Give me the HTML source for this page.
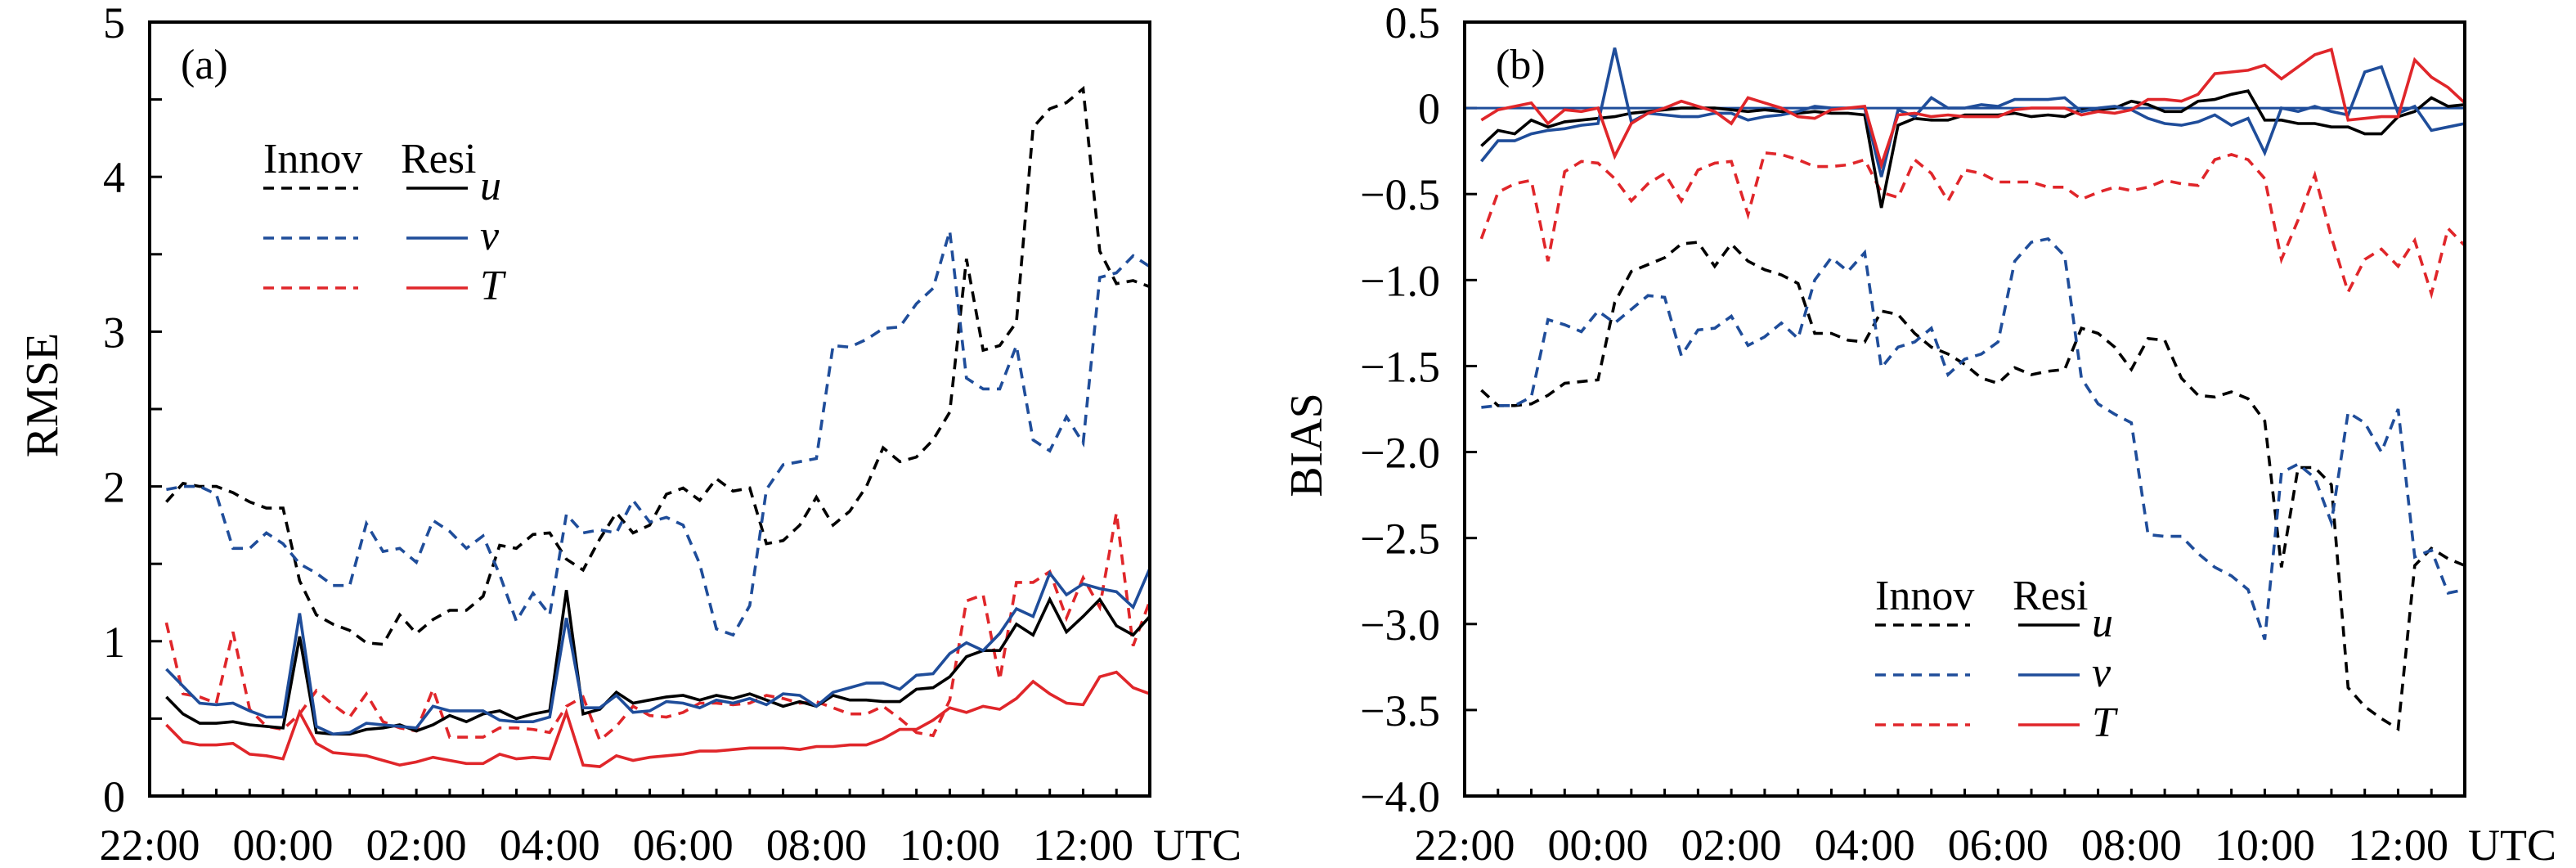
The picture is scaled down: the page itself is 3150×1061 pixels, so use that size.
<!DOCTYPE html>
<html><head><meta charset="utf-8"><style>
html,body{margin:0;padding:0;background:#fff;}
svg{display:block;}
svg text{font-family:"Liberation Serif","Times New Roman",Times,serif;}
</style></head><body>
<svg id="chart" width="3150" height="1061" viewBox="0 0 3150 1061" xmlns="http://www.w3.org/2000/svg" font-family="Liberation Serif, Times New Roman, serif">
<rect width="3150" height="1061" fill="#fff"/>
<g id="pa"></g>
<g id="pb"></g>
</svg>
<script>
const xTickLabels = ["22:00","00:00","02:00","04:00","06:00","08:00","10:00","12:00"];
const rmseTicks = [0,1,2,3,4,5];
const biasTicks = [0.5,0,-0.5,-1.0,-1.5,-2.0,-2.5,-3.0,-3.5,-4.0];

const uInnovA = [1.90,2.02,2.00,2.00,1.96,1.90,1.86,1.86,1.39,1.17,1.11,1.07,0.99,0.98,1.17,1.05,1.14,1.20,1.20,1.29,1.62,1.60,1.69,1.70,1.53,1.46,1.66,1.83,1.70,1.75,1.95,1.99,1.91,2.05,1.97,1.99,1.63,1.65,1.75,1.93,1.75,1.84,2.00,2.25,2.16,2.19,2.30,2.48,3.47,2.88,2.91,3.06,4.32,4.44,4.48,4.57,3.52,3.31,3.33,3.29];
const vInnovA = [1.98,2.00,2.00,1.95,1.60,1.60,1.70,1.63,1.50,1.44,1.36,1.36,1.76,1.58,1.60,1.51,1.78,1.71,1.60,1.68,1.43,1.13,1.31,1.17,1.82,1.70,1.72,1.70,1.91,1.77,1.80,1.75,1.50,1.08,1.04,1.23,1.98,2.14,2.16,2.18,2.91,2.90,2.95,3.02,3.03,3.18,3.28,3.65,2.70,2.63,2.63,2.91,2.30,2.23,2.45,2.28,3.35,3.38,3.49,3.42];
const TInnovA = [1.12,0.66,0.64,0.60,1.06,0.56,0.45,0.43,0.53,0.68,0.59,0.51,0.66,0.48,0.44,0.42,0.69,0.38,0.38,0.38,0.44,0.44,0.43,0.41,0.58,0.64,0.36,0.45,0.58,0.52,0.51,0.54,0.60,0.60,0.59,0.60,0.65,0.63,0.60,0.61,0.57,0.53,0.53,0.58,0.50,0.41,0.39,0.62,1.26,1.30,0.75,1.38,1.38,1.45,1.15,1.41,1.22,1.83,0.97,1.26];
const uResiA = [0.64,0.53,0.47,0.47,0.48,0.46,0.45,0.44,1.03,0.41,0.40,0.40,0.43,0.44,0.46,0.42,0.46,0.52,0.48,0.53,0.55,0.50,0.53,0.55,1.33,0.53,0.56,0.67,0.60,0.62,0.64,0.65,0.62,0.65,0.63,0.66,0.62,0.58,0.61,0.58,0.65,0.62,0.62,0.61,0.61,0.69,0.70,0.77,0.90,0.94,0.94,1.11,1.04,1.27,1.06,1.16,1.27,1.10,1.04,1.16];
const vResiA = [0.82,0.71,0.60,0.59,0.60,0.55,0.51,0.51,1.18,0.45,0.40,0.41,0.47,0.46,0.45,0.44,0.58,0.55,0.55,0.55,0.49,0.48,0.48,0.51,1.15,0.57,0.57,0.65,0.54,0.55,0.61,0.60,0.57,0.62,0.60,0.63,0.59,0.66,0.65,0.58,0.67,0.70,0.73,0.73,0.69,0.78,0.79,0.92,0.99,0.94,1.05,1.21,1.16,1.44,1.30,1.37,1.34,1.32,1.22,1.47];
const TResiA = [0.46,0.35,0.33,0.33,0.34,0.27,0.26,0.24,0.54,0.34,0.28,0.27,0.26,0.23,0.20,0.22,0.25,0.23,0.21,0.21,0.27,0.24,0.25,0.24,0.54,0.20,0.19,0.26,0.23,0.25,0.26,0.27,0.29,0.29,0.30,0.31,0.31,0.31,0.30,0.32,0.32,0.33,0.33,0.37,0.43,0.43,0.49,0.57,0.54,0.58,0.56,0.63,0.74,0.66,0.60,0.59,0.77,0.80,0.70,0.66];

const uInnovB = [-1.64,-1.73,-1.73,-1.72,-1.67,-1.60,-1.59,-1.58,-1.13,-0.95,-0.91,-0.87,-0.79,-0.78,-0.92,-0.79,-0.89,-0.94,-0.97,-1.02,-1.31,-1.31,-1.35,-1.36,-1.18,-1.20,-1.31,-1.39,-1.43,-1.49,-1.57,-1.60,-1.51,-1.55,-1.53,-1.52,-1.28,-1.31,-1.39,-1.52,-1.34,-1.35,-1.57,-1.67,-1.68,-1.65,-1.69,-1.82,-2.67,-2.09,-2.09,-2.19,-3.37,-3.48,-3.55,-3.61,-2.66,-2.56,-2.62,-2.66];
const vInnovB = [-1.74,-1.73,-1.73,-1.68,-1.23,-1.26,-1.30,-1.18,-1.25,-1.17,-1.09,-1.10,-1.44,-1.29,-1.28,-1.21,-1.38,-1.33,-1.25,-1.34,-1.00,-0.87,-0.95,-0.84,-1.51,-1.39,-1.36,-1.28,-1.55,-1.46,-1.43,-1.36,-0.89,-0.78,-0.76,-0.86,-1.57,-1.72,-1.78,-1.83,-2.48,-2.49,-2.49,-2.59,-2.67,-2.72,-2.80,-3.09,-2.12,-2.07,-2.15,-2.41,-1.77,-1.83,-2.00,-1.75,-2.61,-2.57,-2.82,-2.80];
const TInnovB = [-0.76,-0.49,-0.44,-0.42,-0.89,-0.37,-0.31,-0.32,-0.41,-0.54,-0.44,-0.38,-0.54,-0.36,-0.32,-0.31,-0.62,-0.26,-0.27,-0.30,-0.34,-0.34,-0.33,-0.30,-0.49,-0.52,-0.30,-0.38,-0.54,-0.36,-0.38,-0.43,-0.43,-0.43,-0.46,-0.46,-0.53,-0.49,-0.46,-0.48,-0.46,-0.42,-0.44,-0.45,-0.30,-0.27,-0.30,-0.41,-0.88,-0.65,-0.39,-0.75,-1.07,-0.88,-0.82,-0.92,-0.77,-1.08,-0.70,-0.80];
const uResiB = [-0.22,-0.13,-0.15,-0.07,-0.11,-0.08,-0.07,-0.06,-0.05,-0.03,-0.02,-0.01,0,0,0,-0.01,-0.02,-0.01,-0.02,-0.03,-0.02,-0.03,-0.03,-0.04,-0.58,-0.10,-0.06,-0.07,-0.07,-0.04,-0.04,-0.04,-0.03,-0.05,-0.04,-0.05,-0.01,-0.01,0,0.04,0.02,-0.02,-0.02,0.04,0.05,0.08,0.10,-0.07,-0.07,-0.09,-0.09,-0.11,-0.11,-0.15,-0.15,-0.05,-0.02,0.06,0.01,0.02];
const vResiB = [-0.31,-0.19,-0.19,-0.15,-0.13,-0.12,-0.10,-0.09,0.35,-0.08,-0.03,-0.04,-0.05,-0.05,-0.03,-0.03,-0.07,-0.05,-0.04,-0.02,0.01,0,0,0,-0.40,-0.01,-0.05,0.06,0,0,0.02,0.01,0.05,0.05,0.05,0.06,-0.02,0,0.01,-0.01,-0.06,-0.09,-0.10,-0.08,-0.04,-0.10,-0.06,-0.26,0,-0.02,0.01,-0.02,-0.04,0.21,0.24,-0.03,0.01,-0.13,-0.11,-0.09];
const TResiB = [-0.07,-0.01,0.01,0.03,-0.09,-0.01,-0.02,0,-0.28,-0.09,-0.03,0,0.04,0.01,-0.02,-0.09,0.06,0.03,0,-0.05,-0.06,-0.01,0,0.01,-0.33,-0.04,-0.03,-0.05,-0.04,-0.05,-0.05,-0.05,-0.01,0,0,0,-0.04,-0.02,-0.03,-0.01,0.05,0.05,0.04,0.08,0.20,0.21,0.22,0.25,0.17,0.24,0.31,0.34,-0.07,-0.06,-0.05,-0.05,0.28,0.18,0.12,0.03];

const NS = "http://www.w3.org/2000/svg";
const BLACK = "#000", BLUE = "#1f4d9a", RED = "#e0262a";
const TOP = 27, BOT = 973, W = 1223;
function mk(parent, tag, attrs, text) {
  const e = document.createElementNS(NS, tag);
  for (const k in attrs) e.setAttribute(k, attrs[k]);
  if (text !== undefined) e.textContent = text;
  parent.appendChild(e);
  return e;
}
function fmt(v) { return v < 0 ? "\u2212" + Math.abs(v).toFixed(1) : (v === 0 ? "0" : v.toFixed(1)); }

function drawPanel(g, x0, yMin, yMax, minorStep, yLabels, labelFmt, series, tag) {
  const xs = i => x0 + W * (i + 1) / 60;
  const ys = v => BOT - (v - yMin) / (yMax - yMin) * (BOT - TOP);
  const nMinor = Math.round((yMax - yMin) / minorStep);
  for (let k = 0; k <= nMinor; k++) {
    const y = ys(yMin + k * minorStep);
    const t = mk(g, "line", {x1: x0, x2: x0 + 15, y1: y, y2: y, stroke: "#000", "stroke-width": 3});
    
    
  }
  for (let k = 1; k < 30; k++) {
    const x = x0 + W * k / 30;
    const t = mk(g, "line", {x1: x, x2: x, y1: BOT, y2: BOT - 9, stroke: "#000", "stroke-width": 3});
    
    
  }
  yLabels.forEach(v => {
    const t = mk(g, "text", {x: x0 - 30, y: ys(v) + 19, "text-anchor": "end", "font-size": 54}, labelFmt(v));
    
    
  });
  xTickLabels.forEach((s, k) => {
    const t = mk(g, "text", {x: x0 + W * k / 7.5, y: 1051, "text-anchor": "middle", "font-size": 54}, s);
    
    
  });
  const utc = mk(g, "text", {x: x0 + W + 4, y: 1051, "font-size": 54}, "UTC");
  
  
  if (yMax > 0 && yMin < 0) {
    const z = mk(g, "line", {x1: x0, x2: x0 + W, y1: ys(0), y2: ys(0), stroke: BLUE, "stroke-width": 3});
    
    
  }
  series.forEach(s => {
    const d = s.data.map((v, i) => (i ? "L" : "M") + xs(i).toFixed(1) + "," + ys(v).toFixed(1)).join("");
    const attrs = {d: d, fill: "none", stroke: s.color, "stroke-width": 3.6, "stroke-linejoin": "miter"};
    if (s.dash) attrs["stroke-dasharray"] = "13,9";
    const p = mk(g, "path", attrs);
    
    
  });
  const fr = mk(g, "rect", {x: x0, y: TOP, width: W, height: BOT - TOP, fill: "none", stroke: "#000", "stroke-width": 4});
  
  
  const pl = mk(g, "text", {x: x0 + 38, y: 96, "font-size": 52}, tag);
  
  
}

function legend(g, lx, ly) {
  const h1 = mk(g, "text", {x: lx, y: ly, "font-size": 52}, "Innov");
  
  
  const h2 = mk(g, "text", {x: lx + 168, y: ly, "font-size": 52}, "Resi");
  
  
  [["u", BLACK, 19], ["v", BLUE, 80], ["T", RED, 141]].forEach(r => {
    const y = ly + r[2];
    const a = mk(g, "line", {x1: lx, x2: lx + 116, y1: y, y2: y, stroke: r[1], "stroke-width": 3.6, "stroke-dasharray": "13,9"});
    
    
    const b = mk(g, "line", {x1: lx + 175, x2: lx + 250, y1: y, y2: y, stroke: r[1], "stroke-width": 3.6});
    
    
    const t = mk(g, "text", {x: lx + 265, y: y + 14, "font-size": 52, "font-style": "italic"}, r[0]);
    
    
  });
}

const pa = document.getElementById("pa");
const pb = document.getElementById("pb");
drawPanel(pa, 183, 0, 5, 0.5, rmseTicks, v => String(v), [
  {data: uInnovA, color: BLACK, dash: true, name: "u-innov-rmse-line"},
  {data: vInnovA, color: BLUE, dash: true, name: "v-innov-rmse-line"},
  {data: TInnovA, color: RED, dash: true, name: "t-innov-rmse-line"},
  {data: TResiA, color: RED, dash: false, name: "t-resi-rmse-line"},
  {data: uResiA, color: BLACK, dash: false, name: "u-resi-rmse-line"},
  {data: vResiA, color: BLUE, dash: false, name: "v-resi-rmse-line"}
], "(a)");
drawPanel(pb, 1791, -4.0, 0.5, 0.5, biasTicks, fmt, [
  {data: uInnovB, color: BLACK, dash: true, name: "u-innov-bias-line"},
  {data: vInnovB, color: BLUE, dash: true, name: "v-innov-bias-line"},
  {data: TInnovB, color: RED, dash: true, name: "t-innov-bias-line"},
  {data: uResiB, color: BLACK, dash: false, name: "u-resi-bias-line"},
  {data: vResiB, color: BLUE, dash: false, name: "v-resi-bias-line"},
  {data: TResiB, color: RED, dash: false, name: "t-resi-bias-line"}
], "(b)");
legend(pa, 322, 211);
legend(pb, 2293, 745);
const ya = mk(pa, "text", {x: 0, y: 0, "font-size": 56, "text-anchor": "middle", transform: "translate(70,483) rotate(-90)"}, "RMSE");


const yb = mk(pb, "text", {x: 0, y: 0, "font-size": 56, "text-anchor": "middle", transform: "translate(1616,544) rotate(-90)"}, "BIAS");


</script>
</body></html>
